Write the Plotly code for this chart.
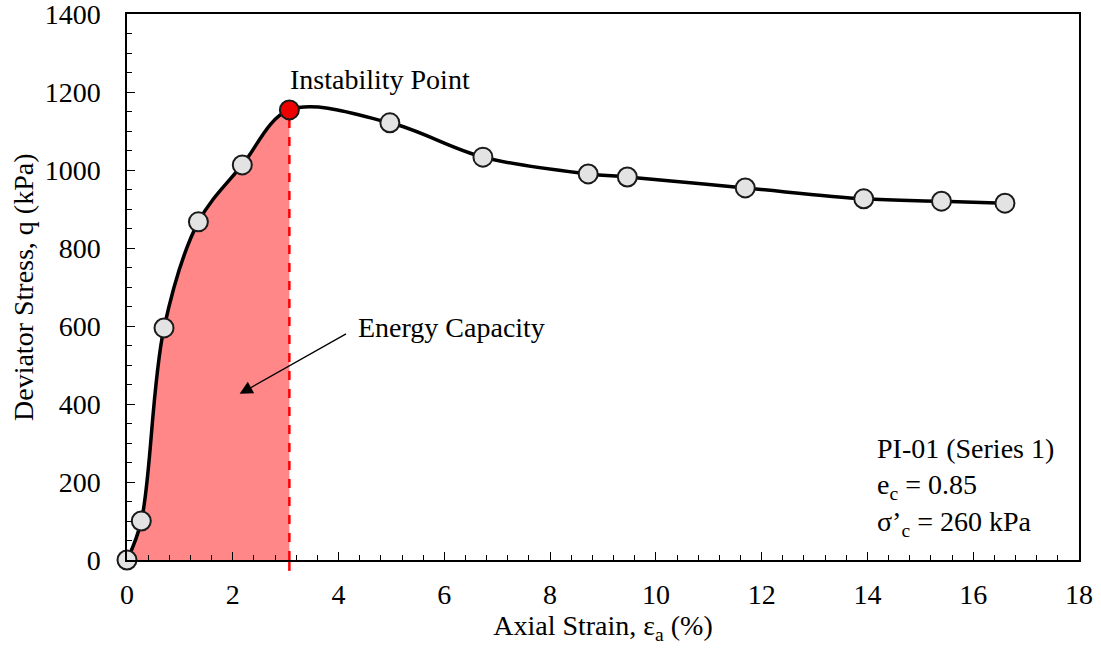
import plotly.graph_objects as go

# Data
strain = [0.0, 0.27, 0.70, 1.35, 2.18, 3.07, 4.97, 6.73, 8.72, 9.46, 11.69, 13.93, 15.40, 16.60]
stress = [0, 100, 595, 867, 1013, 1154, 1121, 1033, 990, 982, 954, 926, 920, 915]
peak_idx = 5

x_range = [0, 18]
y_range = [0, 1400]
x_ticks = [0, 2, 4, 6, 8, 10, 12, 14, 16, 18]
y_ticks = [0, 200, 400, 600, 800, 1000, 1200, 1400]

FONT = "Liberation Serif"
FS = 28

fig = go.Figure()

# Energy capacity fill (one extra point so the spline matches the main curve)
fig.add_trace(go.Scatter(
    x=strain[:peak_idx + 2], y=stress[:peak_idx + 2],
    mode="lines", line=dict(shape="spline", color="rgba(0,0,0,0)", width=0),
    fill="tozeroy", fillcolor="#FF8787", hoverinfo="skip", showlegend=False))

# white mask hiding the fill to the right of the instability point
fig.add_trace(go.Scatter(
    x=[strain[peak_idx], strain[peak_idx], x_range[1], x_range[1]],
    y=[y_range[0], y_range[1], y_range[1], y_range[0]],
    mode="lines", line=dict(width=0, color="white"), fill="toself", fillcolor="white",
    hoverinfo="skip", showlegend=False))

# Dashed line at instability point
fig.add_trace(go.Scatter(
    x=[strain[peak_idx], strain[peak_idx]], y=[0, stress[peak_idx]],
    mode="lines", line=dict(color="#FF0000", width=2.5, dash="dash"),
    showlegend=False, hoverinfo="skip"))

# Main curve
fig.add_trace(go.Scatter(
    x=strain, y=stress, mode="lines",
    line=dict(shape="spline", color="black", width=3.5),
    showlegend=False))

marker_colors = ["#E3E3E3"] * len(strain)
marker_colors[peak_idx] = "#EE0000"
fig.add_trace(go.Scatter(
    x=strain, y=stress, mode="markers",
    marker=dict(size=19, color=marker_colors, line=dict(color="#1a1a1a", width=2)),
    cliponaxis=False, showlegend=False))

# small extension of dashed line below axis
fig.add_shape(type="line", xref="x", yref="paper",
              x0=strain[peak_idx], x1=strain[peak_idx], y0=-0.02, y1=0,
              line=dict(color="#FF0000", width=2.5, dash="dash"))

axis_common = dict(
    showline=True, linecolor="black", linewidth=1.5, mirror=True,
    ticks="inside", ticklen=8, tickwidth=1.3, tickcolor="black",
    showgrid=False, zeroline=False, automargin=False,
    ticklabeloverflow="allow",
    tickfont=dict(family=FONT, size=FS, color="black"),
)

fig.update_xaxes(
    range=x_range, tickvals=x_ticks, ticklabelstandoff=9,
    minor=dict(dtick=0.4, ticks="inside", ticklen=5, tickwidth=1.2, tickcolor="black", showgrid=False),
    title=dict(text="Axial Strain, ε<sub>a</sub> (%)", font=dict(family=FONT, size=FS, color="black"), standoff=0),
    **axis_common)
fig.update_yaxes(
    range=y_range, tickvals=y_ticks, ticklabelstandoff=19,
    minor=dict(dtick=50, ticks="inside", ticklen=5, tickwidth=1.2, tickcolor="black", showgrid=False),
    **axis_common)

# y-axis title
fig.add_annotation(x=0, y=0.5, xref="paper", yref="paper", xshift=-104,
                   text="Deviator Stress, q (kPa)", textangle=-90, showarrow=False,
                   xanchor="center", yanchor="middle",
                   font=dict(family=FONT, size=FS, color="black"))

fig.add_annotation(x=4.78, y=1231, xref="x", yref="y", text="Instability Point",
                   showarrow=False, font=dict(family=FONT, size=FS, color="black"))

fig.add_annotation(x=2.13, y=426, ax=4.17, ay=582, xref="x", yref="y", axref="x", ayref="y",
                   text="", showarrow=True, arrowhead=2, arrowsize=2.0, arrowwidth=1.3,
                   arrowcolor="black")
fig.add_annotation(x=4.33, y=595, xref="x", yref="y", text="Energy Capacity",
                   xanchor="left", showarrow=False, font=dict(family=FONT, size=FS, color="black"))

fig.add_annotation(x=14.15, y=187, xref="x", yref="y",
                   text="PI-01 (Series 1)<br>e<sub>c</sub> = 0.85<br>σ’<sub>c</sub> = 260 kPa",
                   xanchor="left", yanchor="middle", align="left", showarrow=False,
                   font=dict(family=FONT, size=FS, color="black"))

fig.update_layout(
    width=1101, height=655,
    margin=dict(l=127, r=22, t=14, b=95, autoexpand=False),
    plot_bgcolor="white", paper_bgcolor="white",
    font=dict(family=FONT, size=FS, color="black"),
)

fig.write_html("out.html", config={"displayModeBar": False},
               post_script="document.body.style.margin='0';document.body.style.overflow='hidden';")
